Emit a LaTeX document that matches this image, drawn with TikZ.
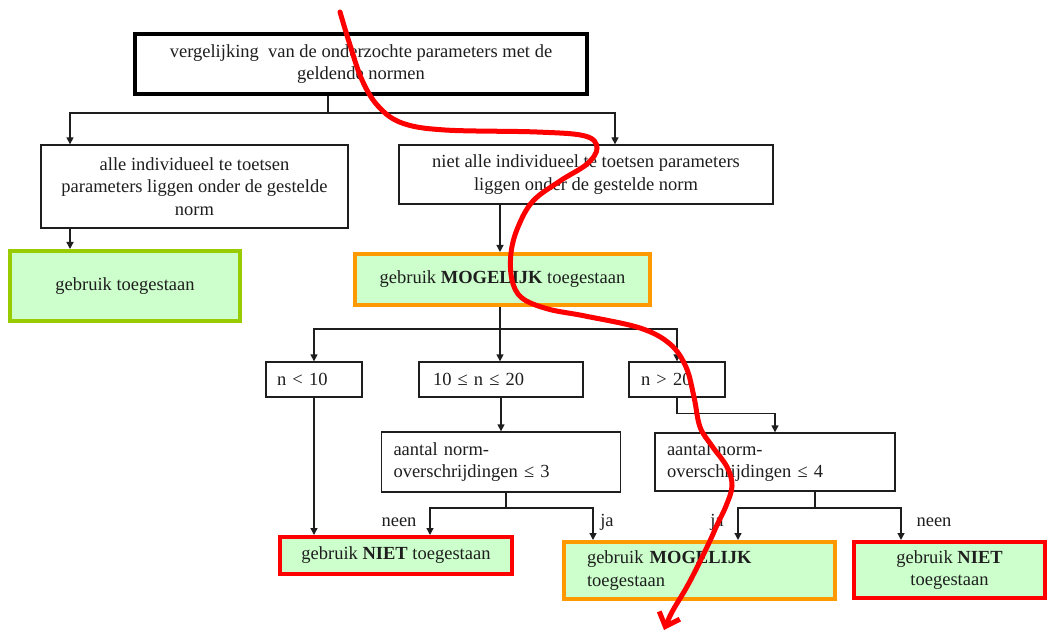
\documentclass[tikz,border=0pt]{standalone}
\usepackage{fontspec}
\setmainfont{Liberation Serif}
\usetikzlibrary{arrows.meta,calc}
\definecolor{boxfill}{HTML}{CCFFCC}
\definecolor{okgreen}{HTML}{99CC00}
\definecolor{maybeorange}{HTML}{FF9900}
\definecolor{nored}{HTML}{FF0000}
\definecolor{ink}{HTML}{1E1E1E}
\begin{document}
\begin{tikzpicture}[x=1pt,y=-1pt,
  font=\fontsize{18.5}{22.5}\selectfont,
  base/.style={rectangle, inner sep=0pt, text=ink},
  plainbox/.style={base, draw=ink, line width=1.3pt, fill=white},
  headbox/.style={base, draw=black, line width=4pt, fill=white},
  okbox/.style={base, draw=okgreen, line width=4pt, fill=boxfill},
  maybebox/.style={base, draw=maybeorange, line width=4pt, fill=boxfill},
  nobox/.style={base, draw=nored, line width=4pt, fill=boxfill},
  arr/.style={draw=ink, line width=1.3pt, -{Triangle[length=7pt,width=7pt]}},
  link/.style={draw=ink, line width=1.3pt},
  lbl/.style={text=ink, inner sep=0pt}
]
\useasboundingbox (0,0) rectangle (1051,636);

% boxes
\node[headbox, minimum width=452pt, minimum height=60pt, align=center] (top) at (361,64)
  {vergelijking~ van de onderzochte parameters met de\\geldende normen};
\node[plainbox, minimum width=307pt, minimum height=83pt, align=center] (alle) at (194.5,186.5)
  {alle individueel te toetsen\\parameters liggen onder de gestelde\\norm};
\node[okbox, minimum width=230pt, minimum height=70pt] (toeg) at (125,286)
  {gebruik toegestaan};
\node[plainbox, minimum width=374pt, minimum height=59pt, align=center] (niet) at (586,174.5)
  {niet alle individueel te toetsen parameters\\liggen onder de gestelde norm};
\node[maybebox, minimum width=295pt, minimum height=51pt] (mog) at (502.5,279.5)
  {gebruik \textbf{MOGELIJK} toegestaan};

\node[plainbox, minimum height=35pt, text width=74pt, inner xsep=11pt, align=left] (n1) at (314,379.5) {n < 10};
\node[plainbox, minimum height=35pt, text width=136pt, inner xsep=14pt, align=left] (n2) at (501,379.5) {10 ≤ n ≤ 20};
\node[plainbox, minimum height=35pt, text width=72pt, inner xsep=12pt, align=left] (n3) at (677,379.5) {n > 20};

\node[plainbox, minimum height=60pt, text width=215pt, inner xsep=12pt, align=left] (c3) at (501,462)
  {aantal norm-\\overschrijdingen ≤ 3};
\node[plainbox, minimum height=58pt, text width=216pt, inner xsep=12pt, align=left] (c4) at (775,462)
  {aantal norm-\\overschrijdingen ≤ 4};

\node[nobox, minimum width=232pt, minimum height=37pt] (r1) at (396,555.5)
  {gebruik \textbf{NIET} toegestaan};
\node[maybebox, minimum height=57pt, text width=225pt, inner xsep=23pt, align=left] (mog2) at (699.5,570.5)
  {gebruik \textbf{MOGELIJK}\\toegestaan};
\node[nobox, minimum width=191pt, minimum height=56pt, align=center] (r2) at (949.5,570)
  {gebruik \textbf{NIET}\\toegestaan};

% branch points and drop lines
\coordinate (j1) at (328,113);
\coordinate (xa) at (70,0);
\coordinate (xb) at (615,0);
\coordinate (xm) at (500,0);
\coordinate (j2) at (500,329);
\coordinate (j3) at (506,508);
\coordinate (xl3) at (430,0);
\coordinate (xr3) at (593,0);
\coordinate (j4) at (815,508);
\coordinate (xl4) at (738,0);
\coordinate (xr4) at (901,0);

% connectors
\draw[link] (top.south -| j1) -- (j1);
\draw[arr] (j1) -| (alle.north -| xa);
\draw[arr] (j1) -| (niet.north -| xb);
\draw[arr] (alle.south -| xa) -- (toeg.north -| xa);
\draw[arr] (niet.south -| xm) -- (mog.north -| xm);

\draw[link] (mog.south -| j2) -- (j2);
\draw[arr] (j2) -| (n1.north);
\draw[arr] (j2) -- (n2.north -| j2);
\draw[arr] (j2) -| (n3.north);

\draw[arr] (n2.south) -- (c3.north);
\draw[arr] (n3.south) -- ++(0,16) -| (c4.north);
\draw[arr] (n1.south) -- (r1.north -| n1.south);

\draw[link] (c3.south -| j3) -- (j3);
\draw[arr] (j3) -| (r1.north -| xl3);
\draw[arr] (j3) -| (mog2.north -| xr3);
\draw[link] (c4.south -| j4) -- (j4);
\draw[arr] (j4) -| (mog2.north -| xl4);
\draw[arr] (j4) -| (r2.north -| xr4);

% branch labels
\node[lbl] (l1) at (399,522) {neen};
\node[lbl] (l2) at (607,522) {ja};
\node[lbl] (l3) at (717,522) {ja};
\node[lbl] (l4) at (934,522) {neen};

% freehand red stroke
\draw[nored, line width=5pt, line cap=round, -{Straight Barb[length=12pt,width=22pt]}]
  plot[smooth, tension=0.6] coordinates {
    (340,12) (350,45) (362,80) (378,106) (402,123) (445,130) (537,132) (585,136)
    (597,148) (587,164) (560,181) (533,201) (518,227) (511,253) (512,280) (522,298)
    (548,309) (585,316) (640,328) (670,344) (686,367) (694,397) (700,427) (712,446)
    (727,467) (732,486) (726,506) (717,525) (708,545) (689,583) (672,612) (664,630)};
\end{tikzpicture}
\end{document}
